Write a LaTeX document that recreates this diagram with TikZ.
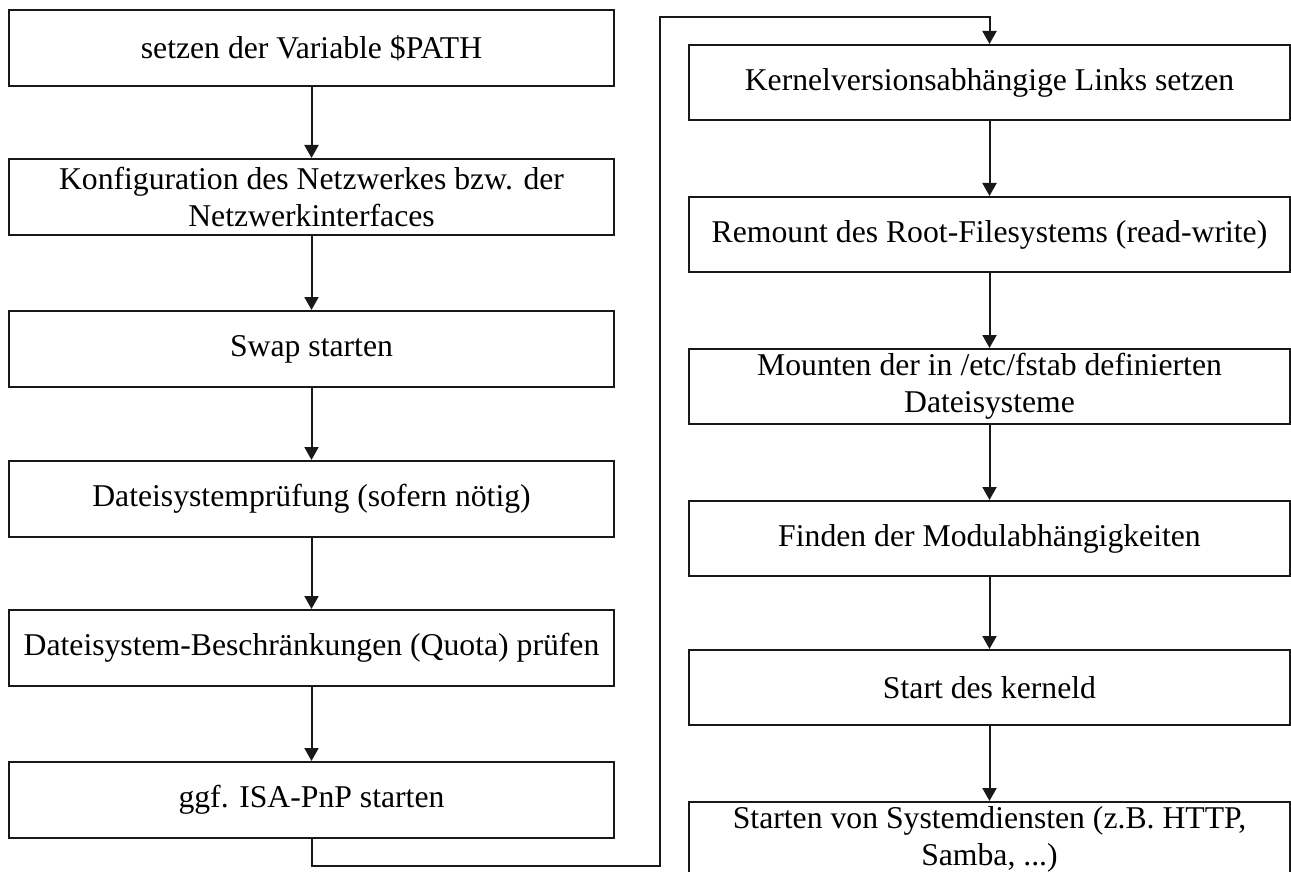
\documentclass[tikz,border=0pt]{standalone}
\usepackage{fontspec}
\setmainfont{Liberation Serif}
\usetikzlibrary{arrows.meta}
\begin{document}
\begin{tikzpicture}[x=1pt,y=-1pt,
  stepbox/.style={draw=black!90,line width=2pt,rectangle,inner sep=0pt,
    align=center,font=\fontsize{31.7}{37}\selectfont},
  lbox/.style={stepbox,minimum width=605pt,minimum height=76pt},
  rbox/.style={stepbox,minimum width=601pt,minimum height=75pt},
  flow/.style={draw=black!90,line width=2pt,-{Triangle[width=14pt,length=13pt]}}]
\useasboundingbox (0,0) rectangle (1291,872);
% left column
\node[lbox] (a1) at (311.5,48) {setzen der Variable \$PATH};
\node[lbox] (a2) at (311.5,197) {Konfiguration des Netzwerkes bzw. der\\Netzwerkinterfaces};
\node[lbox] (a3) at (311.5,349) {Swap starten};
\node[lbox] (a4) at (311.5,499) {Dateisystemprüfung (sofern nötig)};
\node[lbox] (a5) at (311.5,648) {Dateisystem-Beschränkungen (Quota) prüfen};
\node[lbox] (a6) at (311.5,800) {ggf. ISA-PnP starten};
% right column
\node[rbox] (b1) at (989.5,82.5) {Kernelversionsabhängige Links setzen};
\node[rbox] (b2) at (989.5,234.5) {Remount des Root-Filesystems (read-write)};
\node[rbox] (b3) at (989.5,386.5) {Mounten der in /etc/fstab definierten\\Dateisysteme};
\node[rbox] (b4) at (989.5,538.5) {Finden der Modulabhängigkeiten};
\node[rbox] (b5) at (989.5,687.5) {Start des kerneld};
\node[rbox] (b6) at (989.5,839.5) {Starten von Systemdiensten (z.B. HTTP,\\Samba, ...)};
% connectors
\draw[flow] (a1) -- (a2);
\draw[flow] (a2) -- (a3);
\draw[flow] (a3) -- (a4);
\draw[flow] (a4) -- (a5);
\draw[flow] (a5) -- (a6);
\coordinate (c1) at (311.5,866);
\coordinate (c2) at (660,866);
\coordinate (c3) at (660,17);
\coordinate (c4) at (989.5,17);
\draw[flow] (a6.south) -- (c1) -- (c2) -- (c3) -- (c4) -- (b1.north);
\draw[flow] (b1) -- (b2);
\draw[flow] (b2) -- (b3);
\draw[flow] (b3) -- (b4);
\draw[flow] (b4) -- (b5);
\draw[flow] (b5) -- (b6);
\end{tikzpicture}
\end{document}
